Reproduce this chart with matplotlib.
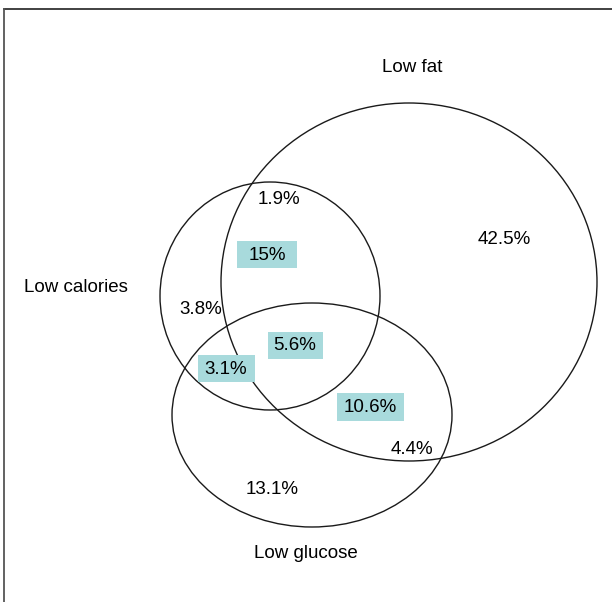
import matplotlib.pyplot as plt
from matplotlib.patches import Ellipse, Rectangle

plt.rcParams['font.family'] = ['Liberation Sans', 'DejaVu Sans']

# set names
sets = ["Low fat", "Low calories", "Low glucose"]
# region percentages
regions = ["1.9%", "15%", "42.5%", "3.8%", "5.6%", "3.1%", "10.6%", "4.4%", "13.1%"]
highlighted = [False, True, False, False, True, True, True, False, False]

# layout (pixel coords, y down)
circles = [(409, 282, 376, 358), (270, 296, 220, 228), (312, 415, 280, 224)]
set_pos = [(412, 67), (76, 286), (306, 552)]
region_pos = [(279, 199), (267, 254), (504, 238), (201, 309), (295, 345),
              (226, 368), (370, 407), (412, 449), (272, 488)]
box_size = [None, (60, 27), None, None, (55, 27), (57, 27), (67, 28), None, None]

fig = plt.figure(figsize=(6.12, 6.02), dpi=100)
ax = fig.add_axes([0, 0, 1, 1])
ax.set_xlim(0, 612)
ax.set_ylim(602, 0)
ax.axis('off')

# top and left frame lines
ax.plot([4, 612], [9, 9], color='#333333', lw=1.3)
ax.plot([4, 4], [9, 602], color='#555555', lw=1.3)

for cx, cy, w, h in circles:
    ax.add_patch(Ellipse((cx, cy), w, h, fill=False, edgecolor='#1a1a1a', lw=1.0))

for name, (x, y) in zip(sets, set_pos):
    ax.text(x, y + 1, name, fontsize=13.5, ha='center', va='center')

for lab, hl, (x, y), bs in zip(regions, highlighted, region_pos, box_size):
    if hl:
        bw, bh = bs
        ax.add_patch(Rectangle((x - bw / 2, y - bh / 2), bw, bh,
                               facecolor='#a8dadc', edgecolor='none', zorder=2))
    ax.text(x, y + 1, lab, fontsize=13.5, ha='center', va='center', zorder=3)

fig.savefig('out.png', dpi=100)
